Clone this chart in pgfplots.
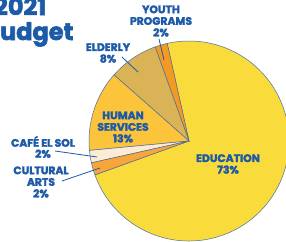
\documentclass[border=0pt]{standalone}
\usepackage{pgfplots}
\pgfplotsset{compat=1.18}
\usepackage{fontspec}
\setmainfont{Poppins}[BoldFeatures={FakeBold=2.5}]
\definecolor{edu}{HTML}{F9DC3C}
\definecolor{hum}{HTML}{FCC43A}
\definecolor{eld}{HTML}{D9B356}
\definecolor{you}{HTML}{F49A22}
\definecolor{caf}{HTML}{FCEBD5}
\definecolor{cul}{HTML}{F8A53B}
\definecolor{txt}{HTML}{1D5BA8}
\definecolor{edge}{HTML}{4D6E9A}
% values (percent), counter-clockwise from the start angle
\def\vYouth{2}\def\vElderly{8}\def\vHuman{13}\def\vCafe{2}\def\vCultural{2}\def\vEducation{73}
\pgfmathsetmacro\aYouth{102.6}
\pgfmathsetmacro\aElderly{\aYouth+\vYouth*3.6}
\pgfmathsetmacro\aHuman{\aElderly+\vElderly*3.6}
\pgfmathsetmacro\aCafe{\aHuman+\vHuman*3.6}
\pgfmathsetmacro\aCultural{\aCafe+\vCafe*3.6}
\pgfmathsetmacro\aEducation{\aCultural+\vCultural*3.6}
\newcommand\slice[3]{\fill[#3, draw=edge, line width=0.5pt] (axis cs:189,141) -- ++(#1:100pt) arc[start angle=#1, delta angle=#2*3.6, radius=100pt] -- cycle;}
\begin{document}
\begin{tikzpicture}
\useasboundingbox (0,0) rectangle (286pt,241pt);
\clip (0,0) rectangle (286pt,241pt);
\fill[white] (0,0) rectangle (286pt,241pt);
\begin{axis}[at={(0,0)}, anchor=south west, scale only axis, width=286pt, height=241pt,
  xmin=0, xmax=286, ymin=0, ymax=241, y dir=reverse, hide axis, clip=false]
\slice{\aEducation}{\vEducation}{edu}
\slice{\aYouth}{\vYouth}{you}
\slice{\aElderly}{\vElderly}{eld}
\slice{\aHuman}{\vHuman}{hum}
\slice{\aCafe}{\vCafe}{caf}
\slice{\aCultural}{\vCultural}{cul}
\draw[txt, line width=0.8pt] (axis cs:159,39) -- (axis cs:164,60);
\draw[txt, line width=0.8pt] (axis cs:122,57) -- (axis cs:138,72);
\draw[txt, line width=0.8pt] (axis cs:55,151) -- (axis cs:97,157);
\draw[txt, line width=0.8pt] (axis cs:62,181) -- (axis cs:100,168);
\node[txt, font=\bfseries\fontsize{24}{24}\selectfont, anchor=base west, inner sep=0] at (axis cs:-6,15) {2021};
\node[txt, font=\bfseries\fontsize{24}{24}\selectfont, anchor=base west, inner sep=0] at (axis cs:-16,40) {Budget};
\node[txt, font=\bfseries\fontsize{10.8}{11.6}\selectfont, align=center, inner sep=0] at (axis cs:161,21) {YOUTH\\PROGRAMS\\2\%};
\node[txt, font=\bfseries\fontsize{10.8}{11.6}\selectfont, align=center, inner sep=0] at (axis cs:108,53) {ELDERLY\\8\%};
\node[txt, font=\bfseries\fontsize{10.8}{11.6}\selectfont, align=center, inner sep=0] at (axis cs:123,127) {HUMAN\\SERVICES\\13\%};
\node[txt, font=\bfseries\fontsize{10.8}{11}\selectfont, align=center, inner sep=0] at (axis cs:43,147) {CAFÉ EL SOL\\2\%};
\node[txt, font=\bfseries\fontsize{10.8}{11.6}\selectfont, align=center, inner sep=0] at (axis cs:41,182) {CULTURAL\\ARTS\\2\%};
\node[txt, font=\bfseries\fontsize{10.8}{11.6}\selectfont, align=center, inner sep=0] at (axis cs:228,164) {EDUCATION\\73\%};
\end{axis}
\end{tikzpicture}
\end{document}
